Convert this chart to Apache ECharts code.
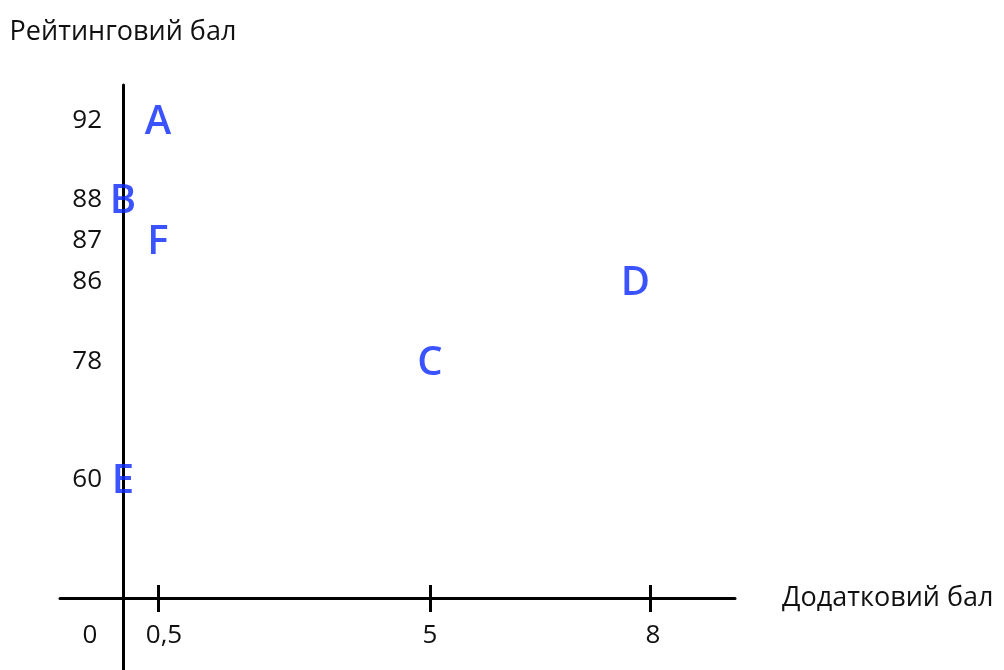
<!DOCTYPE html>
<html>
<head>
<meta charset="utf-8">
<script src="https://cdn.jsdelivr.net/npm/echarts@6/dist/echarts.min.js"></script>
<style>html,body{margin:0;padding:0;background:#fff;}#c{width:1004px;height:670px;}</style>
</head>
<body>
<div id="c"></div>
<script>
// ---- data ----
const xTicks = [0, 0.5, 5, 8];
const xTickLabels = ['0', '0,5', '5', '8'];
const yTicks = [60, 78, 86, 87, 88, 92];
const yTickLabels = ['60', '78', '86', '87', '88', '92'];
const pointNames = ['A', 'B', 'C', 'D', 'E', 'F'];
const pointX = [0.5, 0, 5, 7.8, 0, 0.5];
const pointY = [92, 88, 78, 86, 60, 87];
const xAxisName = 'Додатковий бал';
const yAxisName = 'Рейтинговий бал';

// ---- layout (hand-drawn, non-uniform axes): screen units for each tick ----
const xStops = [0, 35, 307, 527];
const yStops = [118, 236, 316, 357, 398, 477];
const xLabelShift = [-33, 6, 0, 3];

function interp(v, ticks, stops) {
  if (v <= ticks[0]) {
    const s = (stops[1] - stops[0]) / (ticks[1] - ticks[0]);
    return stops[0] + (v - ticks[0]) * s;
  }
  for (let i = 1; i < ticks.length; i++) {
    if (v <= ticks[i]) {
      const t = (v - ticks[i - 1]) / (ticks[i] - ticks[i - 1]);
      return stops[i - 1] + t * (stops[i] - stops[i - 1]);
    }
  }
  const n = ticks.length - 1;
  const s = (stops[n] - stops[n - 1]) / (ticks[n] - ticks[n - 1]);
  return stops[n] + (v - ticks[n]) * s;
}
const mx = v => interp(v, xTicks, xStops);
const my = v => interp(v, yTicks, yStops);

const xTickPos = xTicks.map(mx);
const yTickPos = yTicks.map(my);
const tickedX = xTicks.filter(v => v !== 0).map(mx);

const rich = {};
xLabelShift.forEach((d, i) => {
  rich['l' + i] = {
    fontFamily: 'Open Sans', fontSize: 26, color: '#111',
    padding: d >= 0 ? [0, 0, 0, 2 * d] : [0, -2 * d, 0, 0]
  };
});
function xLabel(v) {
  let best = 0;
  xTickPos.forEach((p, i) => { if (Math.abs(p - v) < Math.abs(xTickPos[best] - v)) best = i; });
  return '{l' + best + '|' + xTickLabels[best] + '}';
}
function yLabel(v) {
  let best = 0;
  yTickPos.forEach((p, i) => { if (Math.abs(p - v) < Math.abs(yTickPos[best] - v)) best = i; });
  return yTickLabels[best];
}

const lineStyle = { color: '#000', width: 3 };
const chart = echarts.init(document.getElementById('c'), null, { renderer: 'canvas' });
chart.setOption({
  animation: false,
  backgroundColor: '#fff',
  grid: { left: 60, right: 269, top: 85, bottom: 0, containLabel: false, outerBoundsMode: 'none' },
  xAxis: [{
    type: 'value', min: -63, max: 612,
    name: xAxisName, nameLocation: 'end', nameGap: 47,
    nameTextStyle: { fontFamily: 'Open Sans', fontSize: 27, color: '#111', verticalAlign: 'middle', padding: [0, 0, 6, 0] },
    axisLine: { show: true, onZero: true, lineStyle: lineStyle },
    axisTick: { show: true, customValues: tickedX, length: 14, lineStyle: lineStyle },
    axisLabel: { show: true, customValues: xTickPos, formatter: xLabel, margin: -47, rich: rich },
    splitLine: { show: false }
  }, {
    type: 'value', min: -63, max: 612, position: 'bottom', offset: -72,
    axisLine: { show: false, onZero: false },
    axisTick: { show: true, inside: true, customValues: tickedX, length: 13, lineStyle: lineStyle },
    axisLabel: { show: false },
    splitLine: { show: false }
  }],
  yAxis: {
    type: 'value', min: -72, max: 513,
    name: yAxisName, nameLocation: 'end', nameGap: 53,
    nameTextStyle: { fontFamily: 'Open Sans', fontSize: 27, color: '#111', verticalAlign: 'middle', align: 'center' },
    axisLine: { show: true, onZero: true, lineStyle: lineStyle },
    axisTick: { show: false },
    axisLabel: { show: true, customValues: yTickPos, formatter: yLabel, margin: -42,
      fontFamily: 'Open Sans', fontSize: 26, color: '#111' },
    splitLine: { show: false }
  },
  series: [{
    type: 'scatter',
    symbolSize: 0,
    data: pointNames.map((n, i) => ({ name: n, value: [mx(pointX[i]), my(pointY[i])] })),
    label: {
      show: true, position: 'inside', formatter: p => p.name, offset: [0, 2],
      fontFamily: 'Open Sans', fontSize: 40, fontWeight: 600, color: '#0a28ff'
    }
  }]
});
</script>
</body>
</html>
